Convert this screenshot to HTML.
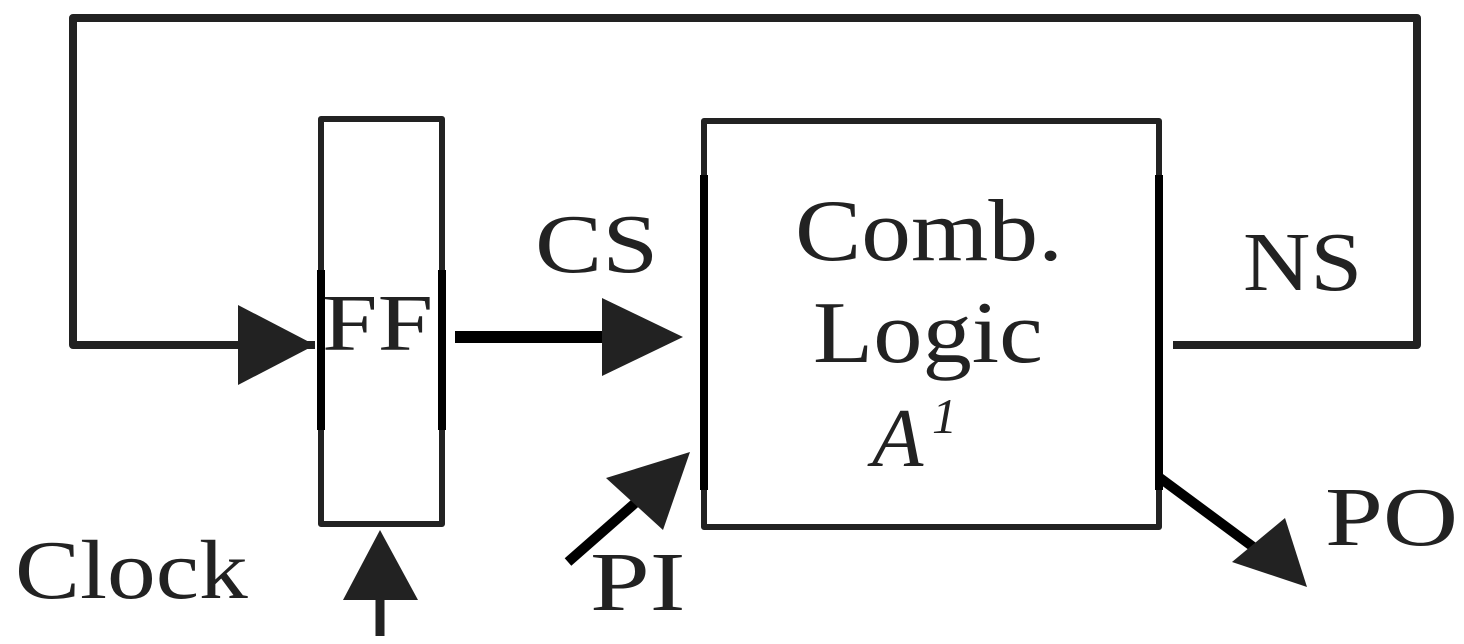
<!DOCTYPE html>
<html><head><meta charset="utf-8"><style>
html,body{margin:0;padding:0;background:#fff;width:1464px;height:644px;overflow:hidden}
text{font-family:"Liberation Serif",serif;fill:#222}
</style></head><body>
<svg width="1464" height="644" viewBox="0 0 1464 644" xmlns="http://www.w3.org/2000/svg">
<g fill="none" stroke="#222" stroke-linejoin="round">
<path d="M315 345 H73 V18 H1417 V345 H1173" stroke-width="8"/>
<rect x="321" y="119" width="121" height="405" stroke-width="6"/>
<rect x="704" y="121" width="455" height="406" stroke-width="6"/>
<line x1="321" y1="270" x2="321" y2="430" stroke-width="8" stroke="#000"/>
<line x1="442" y1="270" x2="442" y2="430" stroke-width="8" stroke="#000"/>
<line x1="704" y1="175" x2="704" y2="490" stroke-width="8" stroke="#000"/>
<line x1="1159" y1="175" x2="1159" y2="490" stroke-width="8" stroke="#000"/>
<line x1="455" y1="337" x2="610" y2="337" stroke-width="12" stroke="#000"/>
<line x1="380" y1="636" x2="380" y2="590" stroke-width="9"/>
<line x1="568" y1="562" x2="650" y2="490" stroke-width="10" stroke="#000"/>
<line x1="1160" y1="478" x2="1260" y2="552" stroke-width="10" stroke="#000"/>
</g>
<g fill="#222">
<polygon points="238,305 315,345 238,385"/>
<polygon points="602,298 683,337 602,376"/>
<polygon points="343,600 380,530 418,600"/>
<polygon points="606,478 690,452 663,530"/>
<polygon points="1232,562 1285,518 1307,587"/>
</g>
<text transform="translate(322,350) scale(1.25,1)" font-size="80">FF</text>
<text transform="translate(535,272) scale(1.2,1)" font-size="84">CS</text>
<text transform="translate(795,260) scale(1.13,1)" font-size="88">Comb.</text>
<text transform="translate(813,362) scale(1.12,1)" font-size="88">Logic</text>
<text x="872" y="466" font-size="84" font-style="italic">A</text>
<text x="932" y="433" font-size="50" font-style="italic">1</text>
<text transform="translate(1243,290) scale(1.11,1)" font-size="84">NS</text>
<text transform="translate(15,598) scale(1.16,1)" font-size="84">Clock</text>
<text transform="translate(590,610) scale(1.28,1)" font-size="84">PI</text>
<text transform="translate(1325,545) scale(1.24,1)" font-size="84">PO</text>
</svg>
</body></html>
